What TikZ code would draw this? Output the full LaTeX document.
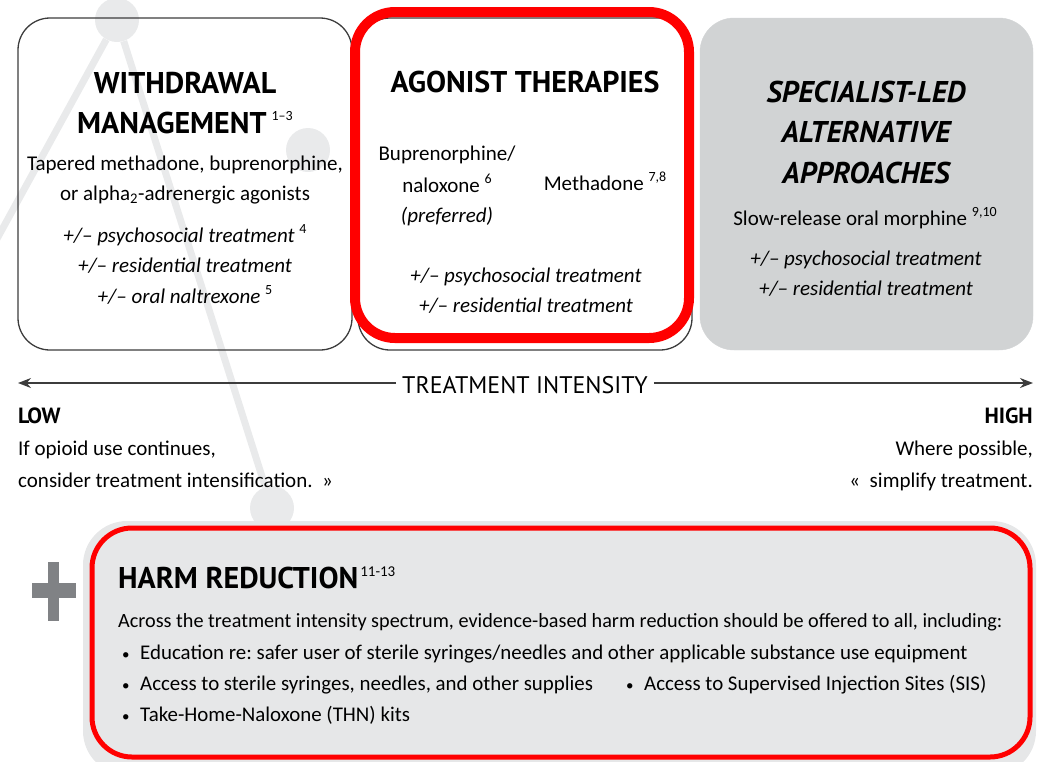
\documentclass[tikz,border=0pt]{standalone}
\usepackage{fontspec}
\setmainfont{Carlito}
\newfontfamily\dinfont{PT Sans}
\usetikzlibrary{arrows.meta,positioning}
\frenchspacing

\definecolor{netgray}{HTML}{E9EAEB}
\definecolor{edgegray}{HTML}{3C3C3C}
\definecolor{panelfill}{HTML}{D1D3D4}
\definecolor{harmfill}{HTML}{E6E7E8}
\definecolor{plusgray}{HTML}{808285}
\definecolor{alertred}{HTML}{FF0000}

\newcommand{\refs}[1]{\raisebox{0.85ex}{\normalfont\fontsize{14}{14}\selectfont #1}}
\newcommand{\bull}{\makebox[18pt][l]{\fontsize{15}{15}\selectfont•}}

\begin{document}
\begin{tikzpicture}[x=1pt, y=-1pt,
    dot/.style={circle, fill=netgray, minimum size=44pt, inner sep=0pt},
    link/.style={netgray, line width=7pt},
    panel/.style={draw=edgegray, line width=1.3pt, rounded corners=32pt},
    title/.style={font=\dinfont\bfseries\fontsize{30}{30}\selectfont, inner sep=0pt, anchor=base},
    slanted/.style={font=\dinfont\bfseries\itshape\fontsize{30}{30}\selectfont, inner sep=0pt, anchor=base},
    body/.style={font=\fontsize{21}{21}\selectfont, inner sep=0pt, anchor=base},
    optional/.style={font=\itshape\fontsize{21}{21}\selectfont, inner sep=0pt, anchor=base},
    harmtext/.style={font=\fontsize{20.9}{20.9}\selectfont, inner sep=0pt, anchor=base west},
    axis/.style={draw=edgegray, line width=1.4pt, -{Stealth[length=13pt, width=10pt]}}]
    \clip (0,0) rectangle (1040,761);

    % Background network
    \node[dot] (net-a) at (117,20) {};
    \node[dot] (net-b) at (308,150) {};
    \node[dot] (net-c) at (272,508) {};
    \coordinate (net-d) at (-30,288);
    \draw[link] (net-a) -- (net-d);
    \draw[link] (net-a) -- (net-c);

    % Panels
    \draw[panel] (18,18) rectangle (352,350);
    \draw[panel] (358,18) rectangle (692,350);
    \draw[alertred, line width=10pt, rounded corners=40pt] (355,12) rectangle (689,338);
    \draw[panelfill, fill=panelfill, rounded corners=34pt] (700,18) rectangle (1033,350);

    % Withdrawal management
    \node[title] (wm-t1) at (185,93) {WITHDRAWAL};
    \node[title] (wm-t2) at (185,133) {MANAGEMENT\,\refs{1–3}};
    \node[body] (wm-b1) at (185,170) {Tapered methadone, buprenorphine,};
    \node[body] (wm-b2) at (185,200) {or alpha\textsubscript{2}-adrenergic agonists};
    \node[optional] (wm-o1) at (185,242) {+/– psychosocial treatment \refs{4}};
    \node[optional] (wm-o2) at (185,272) {+/– residential treatment};
    \node[optional] (wm-o3) at (185,303) {+/– oral naltrexone \refs{5}};

    % Agonist therapies
    \node[title] (ag-t) at (525,92) {AGONIST THERAPIES};
    \node[body] (ag-b1) at (447,160) {Buprenorphine/};
    \node[body] (ag-b2) at (447,192) {naloxone \refs{6}};
    \node[optional] (ag-b3) at (447,222) {(preferred)};
    \node[body] (ag-m) at (605,190) {Methadone \refs{7,8}};
    \node[optional] (ag-o1) at (526,282) {+/– psychosocial treatment};
    \node[optional] (ag-o2) at (526,312) {+/– residential treatment};

    % Specialist-led approaches
    \node[slanted] (sp-t1) at (866,102) {SPECIALIST-LED};
    \node[slanted] (sp-t2) at (866,142) {ALTERNATIVE};
    \node[slanted] (sp-t3) at (866,183) {APPROACHES};
    \node[body] (sp-b) at (865,225) {Slow-release oral morphine \refs{9,10}};
    \node[optional] (sp-o1) at (866,265) {+/– psychosocial treatment};
    \node[optional] (sp-o2) at (866,295) {+/– residential treatment};

    % Intensity scale
    \node[font=\dinfont\fontsize{24}{24}\selectfont, inner ysep=0pt, inner xsep=6pt, anchor=base] (scale) at (525,393) {TREATMENT INTENSITY};
    \coordinate (lo-tip) at (18,383);
    \coordinate (hi-tip) at (1033,383);
    \draw[axis] (scale.west |- lo-tip) -- (lo-tip);
    \draw[axis] (scale.east |- hi-tip) -- (hi-tip);
    \node[font=\dinfont\bfseries\fontsize{22}{22}\selectfont, inner sep=0pt, anchor=base west] (low) at (18,423) {LOW};
    \node[body, anchor=base west] (low-1) at (18,455) {If opioid use continues,};
    \node[body, anchor=base west] (low-2) at (18,487) {consider treatment intensification.~~»};
    \node[font=\dinfont\bfseries\fontsize{22}{22}\selectfont, inner sep=0pt, anchor=base east] (high) at (1033,423) {HIGH};
    \node[body, anchor=base east] (high-1) at (1033,455) {Where possible,};
    \node[body, anchor=base east] (high-2) at (1033,487) {«~~simplify treatment.};

    % Harm reduction
    \fill[harmfill, rounded corners=44pt] (83,521) rectangle (1036,775);
    \draw[alertred, line width=5pt, fill=harmfill, rounded corners=40pt] (92,528) rectangle (1030,757);
    \fill[plusgray] (32,583) rectangle (76,598);
    \fill[plusgray] (48,562) rectangle (59,621);
    \node[title, anchor=base west] (hr-t) at (118,588) {HARM REDUCTION\kern2pt\raisebox{0.8ex}{\normalfont\fontsize{15}{15}\selectfont 11-13}};
    \node[harmtext, font=\fontsize{20.2}{20.2}\selectfont] (hr-0) at (118,627) {Across the treatment intensity spectrum, evidence-based harm reduction should be offered to all, including:};
    \node[harmtext] (hr-1) at (122,659) {\bull Education re: safer user of sterile syringes/needles and other applicable substance use equipment};
    \node[harmtext] (hr-2) at (122,690) {\bull Access to sterile syringes, needles, and other supplies};
    \node[harmtext] (hr-3) at (626,690) {\bull Access to Supervised Injection Sites (SIS)};
    \node[harmtext] (hr-4) at (122,721) {\bull Take-Home-Naloxone (THN) kits};
\end{tikzpicture}
\end{document}
